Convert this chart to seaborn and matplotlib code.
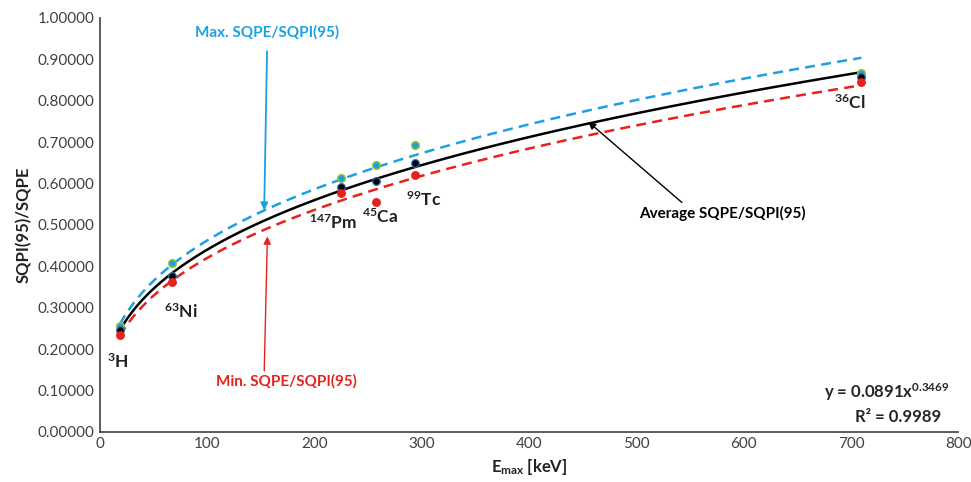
import numpy as np
import pandas as pd
import seaborn as sns
import matplotlib.pyplot as plt

# --- DATA ---
isotopes = ["$^{3}$H", "$^{63}$Ni", "$^{147}$Pm", "$^{45}$Ca", "$^{99}$Tc", "$^{36}$Cl"]
e_max = [18.6, 66.9, 224.6, 256.8, 293.8, 709.6]  # keV
ratio_max = [0.255, 0.408, 0.614, 0.645, 0.692, 0.866]
ratio_avg = [0.245, 0.377, 0.592, 0.607, 0.649, 0.857]
ratio_min = [0.234, 0.362, 0.577, 0.556, 0.621, 0.845]

# label positions for the isotope names (keV, ratio)
label_x = [17, 75, 217, 261, 302, 699]
label_y = [0.17, 0.29, 0.505, 0.52, 0.56, 0.795]

avg_fit_a = 0.0891
avg_fit_b = 0.3469

BLUE = "#1BA1E2"
RED = "#E8211C"

sns.set_theme(style="white")
plt.rcParams["font.family"] = ["Lato", "DejaVu Sans"]
plt.rcParams["mathtext.fontset"] = "custom"
plt.rcParams["mathtext.rm"] = "Lato:bold"
plt.rcParams["mathtext.bf"] = "Lato:bold"
plt.rcParams["mathtext.it"] = "Lato:bold"
plt.rcParams["mathtext.default"] = "bf"

df = pd.DataFrame({"E": e_max, "max": ratio_max, "avg": ratio_avg, "min": ratio_min})


def power_fit(x, y):
    # Excel-style power trendline: linear fit in log-log space
    b, ln_a = np.polyfit(np.log(x), np.log(y), 1)
    return np.exp(ln_a), b


xs = np.linspace(min(e_max), max(e_max), 300)
a_max, b_max = power_fit(e_max, ratio_max)
a_min, b_min = power_fit(e_max, ratio_min)
curves = pd.DataFrame({
    "E": xs,
    "max": a_max * xs ** b_max,
    "avg": avg_fit_a * xs ** avg_fit_b,
    "min": a_min * xs ** b_min,
})

fig, ax = plt.subplots(figsize=(9.71, 4.82), dpi=100)
fig.subplots_adjust(left=0.103, right=0.987, bottom=0.104, top=0.963)

sns.lineplot(data=curves, x="E", y="max", ax=ax, color=BLUE, linestyle=(0, (4, 2.5)), linewidth=1.8)
sns.lineplot(data=curves, x="E", y="min", ax=ax, color=RED, linestyle=(0, (4, 2.5)), linewidth=1.8)
sns.lineplot(data=curves, x="E", y="avg", ax=ax, color="black", linewidth=1.8)

sns.scatterplot(data=df, x="E", y="max", ax=ax, color=BLUE, edgecolor="#8CC63F", s=30, linewidth=1.1, zorder=5)
sns.scatterplot(data=df, x="E", y="avg", ax=ax, color="black", edgecolor="#2E6DB4", s=30, linewidth=0.9, zorder=5)
sns.scatterplot(data=df, x="E", y="min", ax=ax, color=RED, edgecolor=RED, s=30, linewidth=0.9, zorder=5)

for name, lx, ly in zip(isotopes, label_x, label_y):
    ax.text(lx, ly, name, fontsize=12.5, fontweight="bold", ha="center", va="center", color="#222222")

# annotations with arrows
ax.annotate("Max. SQPE/SQPI(95)", xy=(153, 0.535), xytext=(156, 0.965),
            color=BLUE, fontsize=11, fontweight="bold", ha="center", va="center",
            arrowprops=dict(arrowstyle="-|>", color=BLUE, lw=1.3, shrinkA=6, shrinkB=0))
ax.annotate("Min. SQPE/SQPI(95)", xy=(156, 0.472), xytext=(174, 0.122),
            color=RED, fontsize=11, fontweight="bold", ha="center", va="center",
            arrowprops=dict(arrowstyle="-|>", color=RED, lw=1.0, shrinkA=0, shrinkB=0,
                            relpos=(0.34, 1.0)))
ax.annotate("Average SQPE/SQPI(95)", xy=(455, 0.749), xytext=(580, 0.528),
            color="black", fontsize=11, fontweight="bold", ha="center", va="center",
            arrowprops=dict(arrowstyle="-|>", color="black", lw=1.0, shrinkA=0, shrinkB=0,
                            relpos=(0.28, 1.0)))

ax.text(733, 0.097, "y = 0.0891x$^{0.3469}$", fontsize=12, fontweight="bold", ha="center", va="center")
ax.text(744, 0.036, "R² = 0.9989", fontsize=12, fontweight="bold", ha="center", va="center")

ax.set_xlim(0, 800)
ax.set_ylim(0, 1.0)
ax.set_xticks(range(0, 801, 100))
ax.set_yticks(np.arange(0, 1.01, 0.1))
ax.set_yticklabels([f"{v:.5f}" for v in np.arange(0, 1.01, 0.1)])
ax.tick_params(axis="both", labelsize=11, labelcolor="#404040", length=0, pad=4)
ax.set_xlabel("E$_{max}$ [keV]", fontsize=12, fontweight="bold", color="#222222")
ax.set_ylabel("SQPI(95)/SQPE", fontsize=12, fontweight="bold", color="#222222")

sns.despine(ax=ax)
for sp in ["left", "bottom"]:
    ax.spines[sp].set_color("#404040")
    ax.spines[sp].set_linewidth(1.2)

fig.savefig("out.png", dpi=100)
